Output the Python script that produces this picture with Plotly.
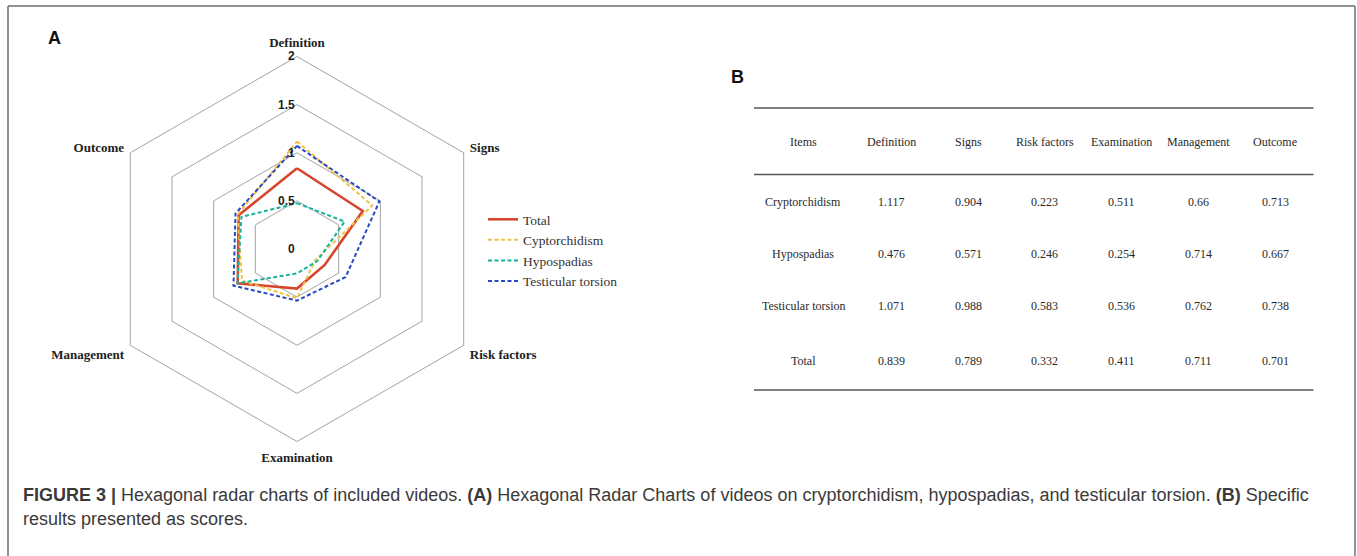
import plotly.graph_objects as go

# Scores per item (hexagonal radar, panel A; table, panel B)
categories = ["Definition", "Signs", "Risk factors", "Examination", "Management", "Outcome"]
cryptorchidism = [1.117, 0.904, 0.223, 0.511, 0.66, 0.713]
hypospadias = [0.476, 0.571, 0.246, 0.254, 0.714, 0.667]
testicular_torsion = [1.071, 0.988, 0.583, 0.536, 0.762, 0.738]
total = [0.839, 0.789, 0.332, 0.411, 0.711, 0.701]

radial_ticks = [0, 0.5, 1, 1.5, 2]
radial_ticktext = ["0", "0.5", "1", "1.5", "2"]

W, H = 1357, 556


def px(x):
    return x / W


def py(y):
    return 1 - y / H


def closed(vals):
    return list(vals) + [vals[0]]


series = [
    ("Total", total, "#d6452c", "solid", 2.6),
    ("Cyptorchidism", cryptorchidism, "#f2c245", "4px,2.5px", 2.0),
    ("Hypospadias", hypospadias, "#17b39c", "4px,2.5px", 2.0),
    ("Testicular torsion", testicular_torsion, "#2a48c0", "4px,2.5px", 2.0),
]

fig = go.Figure()
for name, vals, color, dash, width in series:
    fig.add_trace(go.Scatterpolar(
        r=closed(vals),
        theta=closed(categories),
        mode="lines",
        name=name,
        line=dict(color=color, dash=dash, width=width),
        hoverinfo="skip",
    ))

cx, cy, rad = 297, 249, 192.5

fig.update_layout(
    width=W, height=H,
    margin=dict(l=0, r=0, t=0, b=0),
    paper_bgcolor="white",
    plot_bgcolor="white",
    showlegend=True,
    legend=dict(
        x=px(483), y=py(204), xanchor="left", yanchor="top",
        bgcolor="rgba(0,0,0,0)",
        font=dict(family="Liberation Serif", size=13.5, color="#333333"),
        tracegroupgap=0,
    ),
    polar=dict(
        domain=dict(x=[px(cx - rad), px(cx + rad)], y=[py(cy + rad), py(cy - rad)]),
        bgcolor="rgba(0,0,0,0)",
        gridshape="linear",
        radialaxis=dict(
            range=[0, 2],
            tickvals=radial_ticks,
            ticktext=radial_ticktext,
            angle=90,
            tickangle=90,
            side="counterclockwise",
            showline=False,
            ticks="",
            gridcolor="#a3a3a3",
            gridwidth=1,
            tickfont=dict(family="Liberation Sans", size=12, color="#222222", weight="bold"),
        ),
        angularaxis=dict(
            direction="clockwise",
            rotation=90,
            showgrid=False,
            showline=True,
            linecolor="#a3a3a3",
            linewidth=1,
            ticks="outside",
            ticklen=4,
            tickcolor="rgba(0,0,0,0)",
            tickfont=dict(family="Liberation Serif", size=13, color="#222222", weight="bold"),
        ),
    ),
)

# Figure frame
frame = dict(color="#6e6e6e", width=1.5)
fig.add_shape(type="line", xref="paper", yref="paper", x0=px(8), x1=px(8), y0=-0.02, y1=py(6), line=frame)
fig.add_shape(type="line", xref="paper", yref="paper", x0=px(8), x1=px(1355), y0=py(6), y1=py(6), line=frame)
fig.add_shape(type="line", xref="paper", yref="paper", x0=px(1355), x1=px(1355), y0=-0.02, y1=py(6), line=frame)

# Panel letters
for letter, (lx, ly) in {"A": (55, 38), "B": (737, 77)}.items():
    fig.add_annotation(
        text=f"<b>{letter}</b>", x=px(lx), y=py(ly), xref="paper", yref="paper",
        showarrow=False, xanchor="center", yanchor="middle",
        font=dict(family="Liberation Sans", size=18, color="#111111"),
    )

# Panel B: score table
table_rows = [
    ("Cryptorchidism", cryptorchidism),
    ("Hypospadias", hypospadias),
    ("Testicular torsion", testicular_torsion),
    ("Total", total),
]
col_x = [803, 891.5, 968, 1044.5, 1121.5, 1198, 1275]
header_y = 142
row_y = [202, 254, 306, 361]
tfont = dict(family="Liberation Serif", size=12, color="#2a2a2a")

rule = dict(color="#555555", width=1.6)
for yy in (108, 174.5, 390):
    fig.add_shape(type="line", xref="paper", yref="paper",
                  x0=px(754), x1=px(1313.5), y0=py(yy), y1=py(yy), line=rule)

for xx, label in zip(col_x, ["Items"] + categories):
    fig.add_annotation(text=label, x=px(xx), y=py(header_y), xref="paper", yref="paper",
                       showarrow=False, xanchor="center", yanchor="middle", font=tfont)

for yy, (rname, vals) in zip(row_y, table_rows):
    cells = [rname] + [f"{v:g}" for v in vals]
    for xx, txt in zip(col_x, cells):
        fig.add_annotation(text=txt, x=px(xx), y=py(yy), xref="paper", yref="paper",
                           showarrow=False, xanchor="center", yanchor="middle", font=tfont)

# Caption
cap_font = dict(family="Liberation Sans", size=18, color="#3a3a3a")
caption_lines = [
    "<b>FIGURE 3 |</b> Hexagonal radar charts of included videos. <b>(A)</b> Hexagonal Radar Charts of videos "
    "on cryptorchidism, hypospadias, and testicular torsion. <b>(B)</b> Specific",
    "results presented as scores.",
]
for line, yy in zip(caption_lines, [495, 519]):
    fig.add_annotation(text=line, x=px(21), y=py(yy), xref="paper", yref="paper",
                       showarrow=False, xanchor="left", yanchor="middle", align="left", font=cap_font)

fig.write_html("out.html")
